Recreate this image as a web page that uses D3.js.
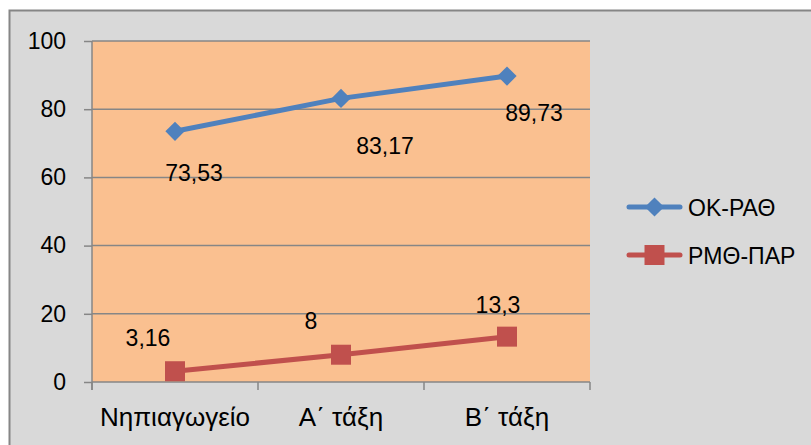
<!DOCTYPE html>
<html>
<head>
<meta charset="utf-8">
<script src="https://cdn.jsdelivr.net/npm/d3@7"></script>
<style>
  html, body { margin: 0; padding: 0; background: #ffffff; }
  svg { display: block; font-family: "Liberation Sans", Arial, sans-serif; }
</style>
</head>
<body>
<svg id="chart" width="811" height="445"></svg>
<script>
// Categories and series
const categories = ["Νηπιαγωγείο", "Α΄ τάξη", "Β΄ τάξη"];
const seriesNames = ["ΟΚ-ΡΑΘ", "ΡΜΘ-ΠΑΡ"];
const okRath = [73.53, 83.17, 89.73];
const rmthPar = [3.16, 8, 13.3];
const yTicks = [0, 20, 40, 60, 80, 100];

// Label text as written with decimal commas
const fmt = v => String(v).replace(".", ",");

// Per-point label nudges (dx, dy to baseline) for each series
const okLabelNudge = [[19, 50], [44, 56], [27, 45]];
const rmLabelNudge = [[-27, -25], [-30, -26], [-9, -24]];

const svg = d3.select("#chart");
const W = 811, H = 445;
const plot = { left: 92, right: 590, top: 41, bottom: 382 };

// Chart area background with left/top border
svg.append("rect").attr("x", 0).attr("y", 0).attr("width", W).attr("height", H).attr("fill", "#ffffff");
svg.append("rect").attr("x", 9).attr("y", 10).attr("width", W).attr("height", H)
  .attr("fill", "#d9d9d9");
svg.append("path").attr("d", `M9.5,${H} V10.5 H${W}`)
  .attr("fill", "none").attr("stroke", "#868686").attr("stroke-width", 2);

const x = d3.scaleBand().domain(categories).range([plot.left, plot.right]).paddingInner(0).paddingOuter(0);
const y = d3.scaleLinear().domain([0, 100]).range([plot.bottom, plot.top]);

// Plot area fill
svg.append("rect")
  .attr("x", plot.left).attr("y", plot.top)
  .attr("width", plot.right - plot.left).attr("height", plot.bottom - plot.top)
  .attr("fill", "#fac090");

// Horizontal gridlines
svg.append("g").selectAll("line").data(yTicks.filter(t => t > 0)).join("line")
  .attr("x1", plot.left).attr("x2", plot.right)
  .attr("y1", d => y(d)).attr("y2", d => y(d))
  .attr("stroke", "#868686").attr("stroke-width", 1.5);

// Y axis
const yAxis = svg.append("g").attr("transform", `translate(${plot.left},0)`)
  .call(d3.axisLeft(y).tickValues(yTicks).tickSize(8).tickPadding(18).tickFormat(d3.format("d")));
yAxis.select(".domain").attr("stroke", "#868686").attr("stroke-width", 1.5)
  .attr("d", `M0,${plot.top}V${plot.bottom + 8}`);
yAxis.selectAll(".tick line").attr("stroke", "#868686").attr("stroke-width", 1.5);
yAxis.selectAll(".tick text").attr("font-size", 23).attr("fill", "#000")
  .attr("font-family", "Liberation Sans, Arial, sans-serif");

// X axis with ticks on band boundaries
const xAxis = svg.append("g").attr("transform", `translate(0,${plot.bottom})`);
xAxis.append("line").attr("x1", plot.left).attr("x2", plot.right).attr("y1", 0).attr("y2", 0)
  .attr("stroke", "#868686").attr("stroke-width", 1.5);
const bounds = categories.map(c => x(c)).concat([x(categories[categories.length - 1]) + x.bandwidth()]);
xAxis.selectAll("line.bt").data(bounds).join("line").attr("class", "bt")
  .attr("x1", d => d).attr("x2", d => d).attr("y1", 0).attr("y2", 8)
  .attr("stroke", "#868686").attr("stroke-width", 1.5);
xAxis.selectAll("text").data(categories).join("text")
  .attr("x", d => x(d) + x.bandwidth() / 2).attr("y", 44)
  .attr("text-anchor", "middle").attr("font-size", 26).attr("fill", "#000")
  .text(d => d);

const cx = c => x(c) + x.bandwidth() / 2;
const line = d3.line().x((d, i) => cx(categories[i])).y(d => y(d));

// Diamond = square turned 45 degrees
const series = [
  { name: seriesNames[0], values: okRath, color: "#4f81bd", size: 185, rot: 45, nudge: okLabelNudge },
  { name: seriesNames[1], values: rmthPar, color: "#c0504d", size: 400, rot: 0, nudge: rmLabelNudge }
];

series.forEach(s => {
  const g = svg.append("g");
  g.append("path").datum(s.values).attr("d", line)
    .attr("fill", "none").attr("stroke", s.color).attr("stroke-width", 5).attr("stroke-linejoin", "round");
  g.selectAll("path.m").data(s.values).join("path").attr("class", "m")
    .attr("transform", (d, i) => `translate(${cx(categories[i])},${y(d)}) rotate(${s.rot})`)
    .attr("d", d3.symbol(d3.symbolSquare, s.size)).attr("fill", s.color);
  g.selectAll("text").data(s.values).join("text")
    .attr("x", (d, i) => cx(categories[i]) + s.nudge[i][0])
    .attr("y", (d, i) => y(d) + s.nudge[i][1])
    .attr("text-anchor", "middle").attr("font-size", 23).attr("fill", "#000")
    .text(d => fmt(d));
});

// Legend
const legend = svg.append("g");
series.forEach((s, i) => {
  const ly = 207 + i * 48;
  legend.append("line").attr("x1", 629).attr("x2", 680).attr("y1", ly).attr("y2", ly)
    .attr("stroke", s.color).attr("stroke-width", 5).attr("stroke-linecap", "round");
  legend.append("path").attr("transform", `translate(654.5,${ly}) rotate(${s.rot})`)
    .attr("d", d3.symbol(d3.symbolSquare, s.size)).attr("fill", s.color);
  legend.append("text").attr("x", 688).attr("y", ly + 8.5)
    .attr("font-size", 23).attr("fill", "#000").text(s.name);
});
</script>
</body>
</html>
